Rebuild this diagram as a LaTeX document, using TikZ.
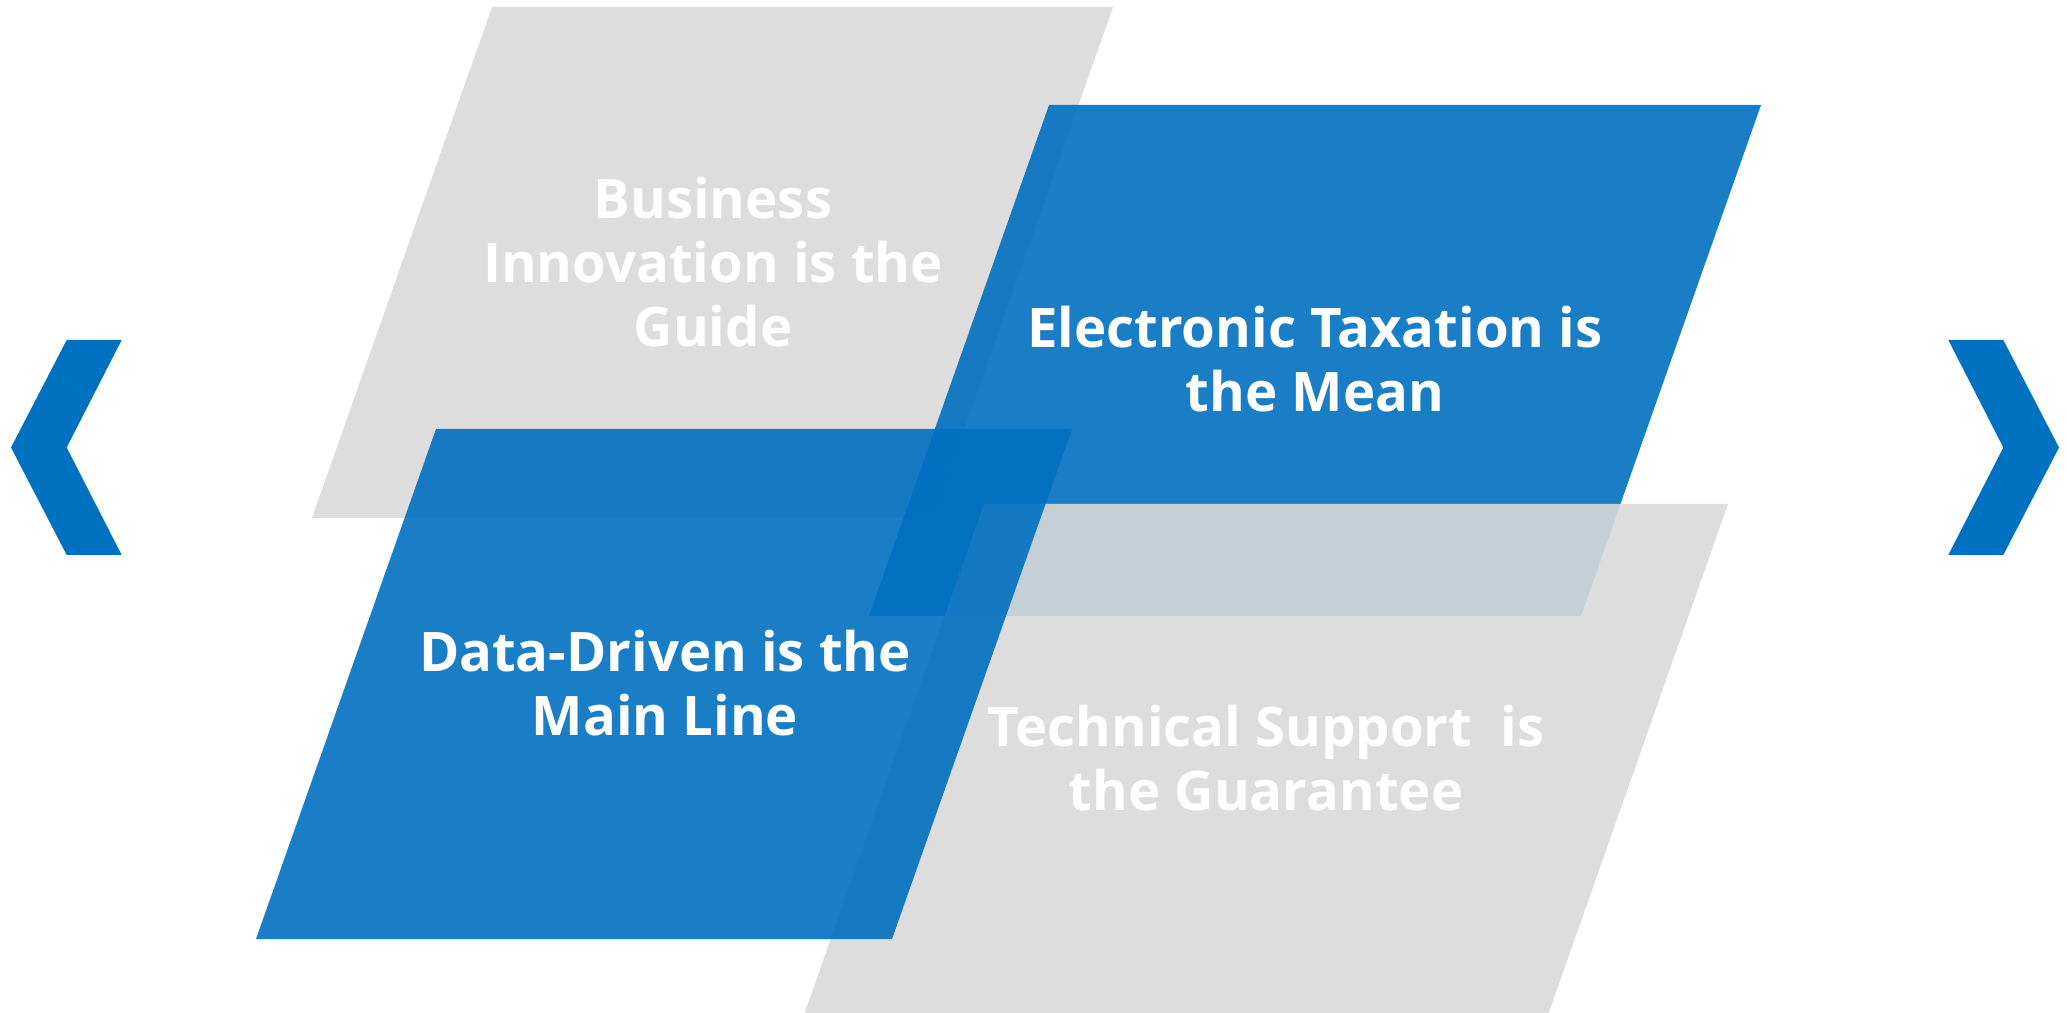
\documentclass[tikz,border=0pt]{standalone}
\usepackage{fontspec}
\setmainfont{Open Sans}
\definecolor{bl}{HTML}{0070C0}
\definecolor{gr}{HTML}{D9D9D9}
\begin{document}
\begin{tikzpicture}[x=0.01cm,y=-0.01cm,
  greyshape/.style={fill=gr,fill opacity=0.9},
  blueshape/.style={fill=bl,fill opacity=0.9},
  chev/.style={fill=bl},
  lbl/.style={text=white,font=\bfseries\fontsize{15.5}{18.2}\selectfont,align=center,inner sep=0pt}]
\useasboundingbox (0,0) rectangle (2067,1013);
\clip (0,0) rectangle (2067,1013);
% grey top-left
\path[greyshape] (492,7) -- ++(621,0) -- ++(-180,511) -- ++(-621,0) -- cycle;
\node[lbl] (guide) at (713,262) {Business\\Innovation is the\\Guide};
% blue top-right
\path[blueshape] (1049,105) -- ++(712,0) -- ++(-180,511) -- ++(-712,0) -- cycle;
\node[lbl] (mean) at (1315,359) {Electronic Taxation is\\the Mean};
% grey bottom-right
\path[greyshape] (984,504) -- ++(744,0) -- ++(-180,511) -- ++(-744,0) -- cycle;
\node[lbl] (guarantee) at (1266,758) {Technical Support\ \ is\\the Guarantee};
% blue bottom-left
\path[blueshape] (436,429) -- ++(636,0) -- ++(-180,510) -- ++(-636,0) -- cycle;
\node[lbl] (mainline) at (665,683) {Data-Driven is the\\Main Line};
% chevrons
\path[chev] (66.7,340) -- (121.7,340) -- (66.7,447.5) -- (121.7,555) -- (66.7,555) -- (11,447.5) -- cycle;
\path[chev] (1948.3,340) -- (2003.3,340) -- (2059,447.5) -- (2003.3,555) -- (1948.3,555) -- (2003.3,447.5) -- cycle;
\end{tikzpicture}
\end{document}
